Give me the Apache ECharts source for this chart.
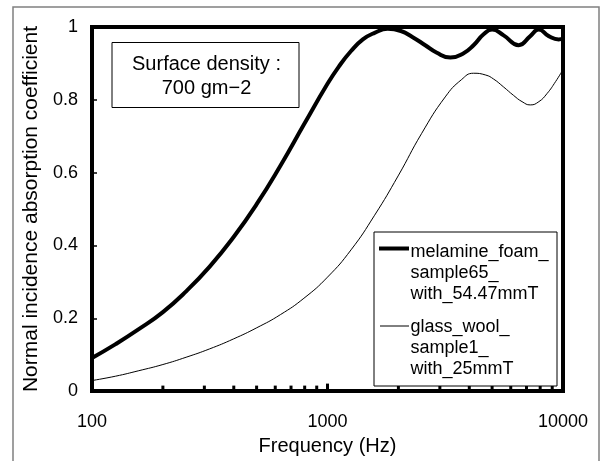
<!DOCTYPE html>
<html>
<head>
<meta charset="utf-8">
<script src="https://cdn.jsdelivr.net/npm/echarts@6/dist/echarts.min.js"></script>
<style>html,body{margin:0;padding:0;background:#fff}#c{width:605px;height:461px}</style>
</head>
<body>
<div id="c"></div>
<script>
// Frequencies (Hz) and absorption coefficients
const melamineFreq = [100, 126, 158, 200, 251, 316, 398, 501, 631, 794, 1000, 1122, 1259, 1413, 1585, 1800, 2050, 2300, 2600, 2900, 3325, 3785, 4170, 4600, 5000, 5597, 6485, 7263, 7890, 8700, 9590, 10000];
const melamineVal  = [0.091, 0.129, 0.170, 0.217, 0.274, 0.342, 0.422, 0.514, 0.619, 0.732, 0.844, 0.893, 0.934, 0.966, 0.984, 0.995, 0.989, 0.972, 0.950, 0.930, 0.916, 0.928, 0.950, 0.980, 0.993, 0.977, 0.950, 0.975, 0.993, 0.975, 0.966, 0.968];
const glassFreq = [100, 126, 158, 200, 251, 316, 398, 501, 631, 794, 1000, 1259, 1585, 1995, 2512, 3162, 3700, 4170, 4700, 5075, 5600, 6170, 6700, 7263, 7900, 8550, 9300, 10000];
const glassVal  = [0.029, 0.041, 0.056, 0.073, 0.093, 0.116, 0.143, 0.174, 0.210, 0.255, 0.313, 0.388, 0.483, 0.591, 0.708, 0.808, 0.855, 0.873, 0.868, 0.857, 0.835, 0.812, 0.795, 0.786, 0.795, 0.817, 0.850, 0.883];
const xTickValues = [200, 300, 400, 500, 600, 700, 800, 900, 1000, 2000, 3000, 4000, 5000, 6000, 7000, 8000, 9000];
const seriesNames = ['melamine_foam_\nsample65_\nwith_54.47mmT', 'glass_wool_\nsample1_\nwith_25mmT'];
const noteLines = ['Surface density :', '700 gm\u22122'];
const xTitle = 'Frequency (Hz)';
const yTitle = 'Normal incidence absorption coefficient';

const FONT = '"Liberation Sans", Arial, sans-serif';
const chart = echarts.init(document.getElementById('c'), null, {renderer: 'canvas'});

function pairs(xs, ys) { return xs.map((x, i) => [x, ys[i]]); }

const option = {
  animation: false,
  backgroundColor: '#fff',
  textStyle: {fontFamily: FONT, color: '#000'},
  grid: {left: 92, right: 42, top: 27, bottom: 58.5, show: true, borderColor: '#000', borderWidth: 4, backgroundColor: 'transparent'},
  xAxis: {
    type: 'log', logBase: 10, min: 100, max: 10000,
    name: xTitle, nameLocation: 'middle', nameGap: 42,
    nameTextStyle: {fontSize: 20, fontFamily: FONT, color: '#000'},
    axisLine: {lineStyle: {color: '#000', width: 4}},
    axisTick: {show: false},
    axisLabel: {fontSize: 18, fontFamily: FONT, color: '#000', margin: 22, formatter: function (v) { return String(Math.round(v)); }},
    splitLine: {show: false}, minorTick: {show: false}
  },
  yAxis: {
    type: 'value', min: 0, max: 1, interval: 0.2,
    name: yTitle, nameLocation: 'middle', nameGap: 44,
    nameTextStyle: {fontSize: 21, fontFamily: FONT, color: '#000'},
    axisLine: {lineStyle: {color: '#000', width: 4}},
    axisTick: {show: true, inside: true, length: 5, lineStyle: {color: '#000', width: 1.5}},
    axisLabel: {fontSize: 18, fontFamily: FONT, color: '#000', margin: 14},
    splitLine: {show: false}
  },
  graphic: [
    {type: 'rect', x: 13, y: 7, shape: {width: 586, height: 480}, style: {fill: 'none', stroke: '#808080', lineWidth: 1.5}, z: 0, silent: true},
    {type: 'rect', x: 112, y: 42.5, shape: {width: 187, height: 65}, style: {fill: '#fff', stroke: '#000', lineWidth: 1}, z: 5},
    {type: 'text', x: 206.5, y: 52.5, style: {text: noteLines.join('\n'), font: '20px ' + FONT, fill: '#000', align: 'center', verticalAlign: 'top', lineHeight: 24}, z: 6},
    {type: 'rect', x: 374, y: 232, shape: {width: 183, height: 154}, style: {fill: '#fff', stroke: '#000', lineWidth: 1}, z: 5},
    {type: 'line', shape: {x1: 379, y1: 248.5, x2: 409, y2: 248.5}, style: {stroke: '#000', lineWidth: 4}, z: 6},
    {type: 'text', x: 410.5, y: 241.5, style: {text: seriesNames[0], font: '18px ' + FONT, fill: '#000', align: 'left', verticalAlign: 'top', lineHeight: 21.2}, z: 6},
    {type: 'line', shape: {x1: 380, y1: 326, x2: 409, y2: 326}, style: {stroke: '#000', lineWidth: 1}, z: 6},
    {type: 'text', x: 410.5, y: 316.5, style: {text: seriesNames[1], font: '18px ' + FONT, fill: '#000', align: 'left', verticalAlign: 'top', lineHeight: 21.2}, z: 6}
  ],
  series: [
    {name: seriesNames[0], type: 'line', data: pairs(melamineFreq, melamineVal), smooth: 0.5, symbol: 'none', lineStyle: {color: '#000', width: 4}, itemStyle: {color: '#000'}, z: 3},
    {name: seriesNames[1], type: 'line', data: pairs(glassFreq, glassVal), smooth: 0.5, symbol: 'none', lineStyle: {color: '#000', width: 1}, itemStyle: {color: '#000'}, z: 3},
    {
      name: 'ticks', type: 'custom', data: xTickValues.map(v => [v, 0]), clip: false, z: 4,
      renderItem: function (params, api) {
        const v = api.value(0);
        const p = api.coord([v, 0]);
        const len = v === 1000 ? 7.5 : 5.5;
        return {type: 'line', shape: {x1: p[0], y1: p[1], x2: p[0], y2: p[1] - len}, style: {stroke: '#000', lineWidth: 3}};
      }
    }
  ]
};
chart.setOption(option);
</script>
</body>
</html>
